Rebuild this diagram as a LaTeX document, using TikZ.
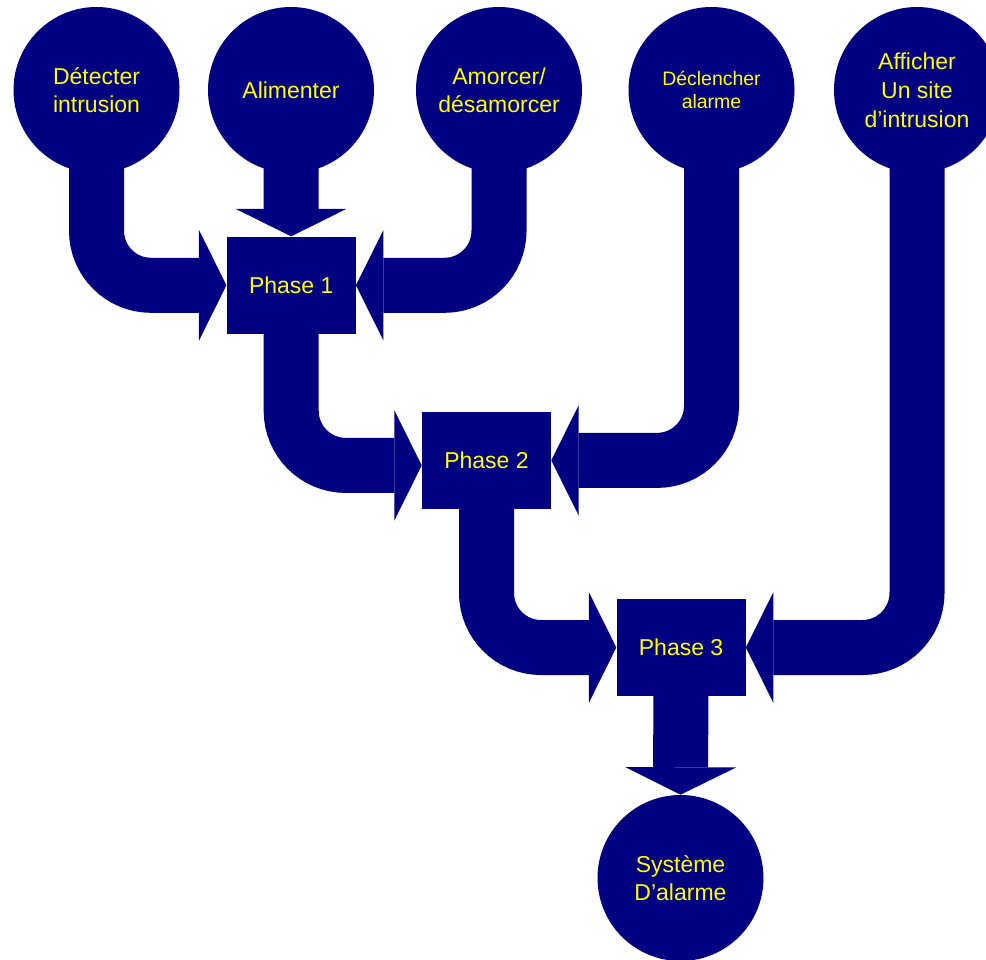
\documentclass[tikz,border=0pt]{standalone}
\usepackage{fontspec}
\setmainfont{Liberation Sans}
\usetikzlibrary{arrows.meta,backgrounds,calc}
\definecolor{navyfill}{RGB}{0,0,128}
\definecolor{labelyellow}{RGB}{255,255,0}

\begin{document}
\begin{tikzpicture}[x=0.75pt,y=-0.75pt,
  blob/.style={circle,fill=navyfill,minimum size=124.5pt,inner sep=0pt,
    text=labelyellow,align=center,font=\fontsize{17.25}{21}\selectfont},
  phase/.style={rectangle,fill=navyfill,minimum width=96.75pt,minimum height=73pt,
    inner sep=0pt,text=labelyellow,font=\fontsize{17.25}{21}\selectfont},
  pipe/.style={draw=navyfill,line width=41.25pt,rounded corners=40.9pt,
    -{Triangle[length=20.6pt,width=83pt,line width=0pt,color=navyfill]}},
]
\useasboundingbox (0,0) rectangle (986,960);

% activities
\node[blob] (c1) at (96.5,90) {Détecter\\intrusion};
\node[blob] (c2) at (291,90) {Alimenter};
\node[blob] (c3) at (499,90) {Amorcer/\\désamorcer};
\node[blob,font=\fontsize{14.6}{17.3}\selectfont] (c4) at (711.5,90) {Déclencher\\alarme};
\node[blob,font=\fontsize{17.25}{21.75}\selectfont] (c5) at (917,90) {Afficher\\Un site\\d’intrusion};

% phases
\node[phase] (p1) at (291.2,285.3) {Phase 1};
\node[phase] (p2) at (486.5,460.4) {Phase 2};
\node[phase] (p3) at (681.1,647.5) {Phase 3};

% result
\node[blob] (s) at (680.5,878) {Système\\D’alarme};

% flows
\begin{pgfonlayer}{background}
\draw[pipe] (c1.center) |- (p1.west);
\draw[pipe] (c2.center) -- (p1.north);
\draw[pipe] (c3.center) |- (p1.east);
\draw[pipe] (p1.center) |- ($(p2.west)+(0,5)$);
\draw[pipe] (c4.center) |- (p2.east);
\draw[pipe] (p2.center) |- (p3.west);
\draw[pipe] (c5.center) |- (p3.east);
\draw[pipe] (p3.center) -- (s.north);
\end{pgfonlayer}
\end{tikzpicture}
\end{document}
